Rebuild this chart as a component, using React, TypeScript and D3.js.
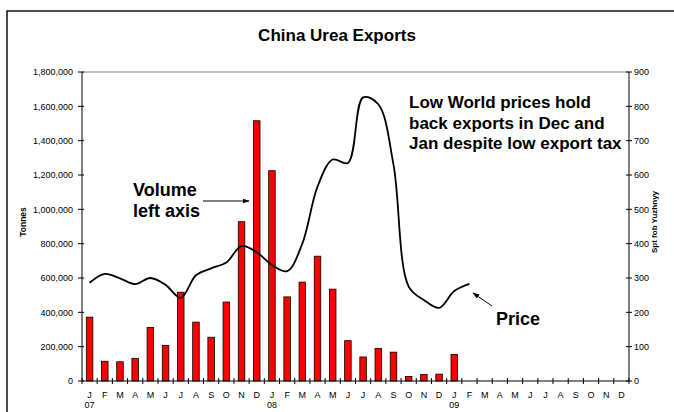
import { useMemo } from 'react';
import * as d3 from 'd3';

// month initials along the bottom, 3 years (07, 08, 09)
const monthLetters = ["J", "F", "M", "A", "M", "J", "J", "A", "S", "O", "N", "D"];
const yearLabels = ["07", "08", "09"];

// export volume, tonnes, Jan 07 .. Jan 09
const volume = [
  372000, 115000, 112000, 132000, 312000, 207000, 517000, 343000, 255000, 460000, 928000, 1516000,
  1225000, 490000, 576000, 727000, 535000, 235000, 140000, 190000, 168000, 27000, 38000, 40000,
  155000,
];

// Spt fob Yuzhnyy price, Jan 07 .. Feb 09
const price = [
  286, 312, 299, 282, 300, 280, 242, 308, 328, 345, 393, 375,
  338, 320, 400, 566, 645, 635, 826, 806, 630, 275, 236, 213,
  262, 283,
];

const leftTicks = [0, 200000, 400000, 600000, 800000, 1000000, 1200000, 1400000, 1600000, 1800000];
const rightTicks = [0, 100, 200, 300, 400, 500, 600, 700, 800, 900];

const W = 674, H = 412;
const left = 82, right = 629, top = 72, bottom = 381;
const font = "'Liberation Sans', Arial, sans-serif";

export default function App() {
  const months = useMemo(() => d3.range(36).map(String), []);

  const x = d3.scaleBand().domain(months).range([left, right]).paddingInner(0.57).paddingOuter(0.285);
  const yL = d3.scaleLinear().domain([0, 1800000]).range([bottom, top]);
  const yR = d3.scaleLinear().domain([0, 900]).range([bottom, top]);
  const bw = x.bandwidth();
  const step = x.step();
  const cx = (i: number) => x(String(i))! + bw / 2;

  const line = d3.line<number>()
    .x((d, i) => cx(i))
    .y(d => yR(d))
    .curve(d3.curveCatmullRom.alpha(0.5));

  const fmt = d3.format(",");
  const tickXs = d3.range(37).map(i => left + i * step);

  return (
    <svg width={W} height={H} style={{ position: "absolute", left: 0, top: 0 }} fontFamily={font}>
      <defs>
        <marker id="ah" viewBox="0 0 10 10" refX="9" refY="5" markerWidth="7" markerHeight="7" orient="auto">
          <path d="M0,1.5 L10,5 L0,8.5 z" fill="#000" />
        </marker>
      </defs>
      <rect x={0} y={0} width={W} height={H} fill="#fff" />
      <rect x={7} y={11} width={720} height={460} fill="none" stroke="#000" strokeWidth={1.4} />

      <text x={337} y={41} textAnchor="middle" fontSize={17} fontWeight="bold">China Urea Exports</text>

      {/* plot frame top */}
      <line x1={left} x2={right} y1={top} y2={top} stroke="#808080" strokeWidth={1} />

      {/* bars */}
      {volume.map((v, i) => (
        <rect key={i} x={x(String(i))!} y={yL(v)} width={bw} height={bottom - yL(v)}
          fill="#FF0000" stroke="#000" strokeWidth={0.8} />
      ))}

      {/* price line */}
      <path d={line(price) ?? ""} fill="none" stroke="#000" strokeWidth={1.8} />

      {/* left axis */}
      <line x1={left} x2={left} y1={top} y2={bottom} stroke="#000" strokeWidth={1} />
      {leftTicks.map(t => (
        <g key={t}>
          <line x1={left - 4} x2={left + 2} y1={yL(t)} y2={yL(t)} stroke="#000" />
          <text x={73} y={yL(t) + 3.2} textAnchor="end" fontSize={9}>{fmt(t)}</text>
        </g>
      ))}
      <text transform={`translate(26,222) rotate(-90)`} textAnchor="middle" fontSize={8.5} fontWeight="bold">Tonnes</text>

      {/* right axis */}
      <line x1={right} x2={right} y1={top} y2={bottom} stroke="#000" strokeWidth={1} />
      {rightTicks.map(t => (
        <g key={t}>
          <line x1={right - 3} x2={right + 3} y1={yR(t)} y2={yR(t)} stroke="#000" />
          <text x={634} y={yR(t) + 3.2} textAnchor="start" fontSize={9}>{t}</text>
        </g>
      ))}
      <text transform={`translate(657,222) rotate(-90)`} textAnchor="middle" fontSize={8} fontWeight="bold">Spt fob Yuzhnyy</text>

      {/* bottom axis */}
      <line x1={left} x2={right} y1={bottom} y2={bottom} stroke="#000" strokeWidth={1} />
      {tickXs.map((t, i) => (
        <line key={i} x1={t} x2={t} y1={bottom - 3} y2={bottom + 3} stroke="#000" />
      ))}
      {months.map((m, i) => (
        <text key={m} x={cx(i)} y={398} textAnchor="middle" fontSize={9}>{monthLetters[i % 12]}</text>
      ))}
      {yearLabels.map((yl, j) => (
        <text key={yl} x={cx(j * 12)} y={408} textAnchor="middle" fontSize={9}>{yl}</text>
      ))}

      {/* annotations */}
      <text x={133} y={196} fontSize={18} fontWeight="bold">Volume</text>
      <text x={133} y={217} fontSize={18} fontWeight="bold">left axis</text>
      <line x1={203} y1={201} x2={249} y2={201} stroke="#000" strokeWidth={1} markerEnd="url(#ah)" />

      <text x={409} y={108} fontSize={17} fontWeight="bold">Low World prices hold</text>
      <text x={409} y={128.5} fontSize={17} fontWeight="bold">back exports in Dec and</text>
      <text x={409} y={149} fontSize={17} fontWeight="bold">Jan despite low export tax</text>

      <text x={496} y={325} fontSize={18} fontWeight="bold">Price</text>
      <line x1={492} y1={306} x2={473} y2={293} stroke="#000" strokeWidth={1} markerEnd="url(#ah)" />
    </svg>
  );
}
